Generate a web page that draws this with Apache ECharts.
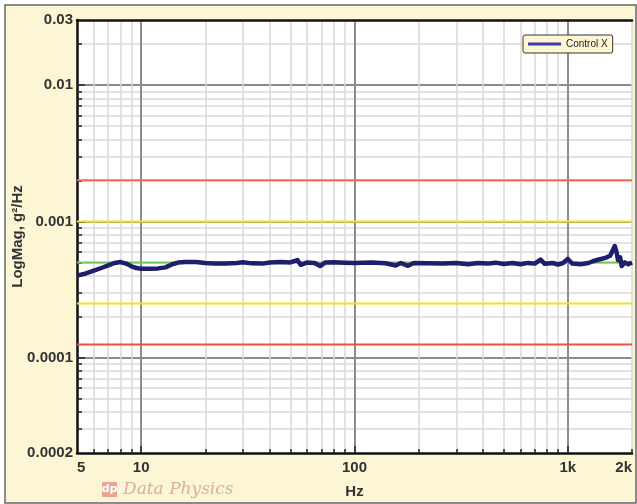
<!DOCTYPE html>
<html>
<head>
<meta charset="utf-8">
<script src="https://cdn.jsdelivr.net/npm/echarts@6/dist/echarts.min.js"></script>
<style>
  html, body { margin: 0; background: #fff; }
  #main { width: 637px; height: 504px; }
</style>
</head>
<body>
<div id="main"></div>
<script>
// Control X 谱线 (Hz, g²/Hz)
var freqs = [5, 5.5, 6, 6.5, 7, 7.5, 8, 8.5, 9, 9.5, 10, 11, 12, 13, 14, 15, 16, 18,
  20, 22, 25, 28, 30, 33, 37, 40, 45, 50, 54, 56, 60, 65, 69, 73, 80, 90,
  100, 120, 140, 156, 165, 178, 190, 220, 260, 300, 340, 380, 420, 460, 500,
  550, 600, 650, 700, 745, 780, 850, 900, 950, 1000, 1050, 1150, 1250, 1310,
  1400, 1500, 1580, 1630, 1660, 1690, 1720, 1760, 1790, 1850, 1920, 2000];
var controlX = [0.000400, 0.000415, 0.000435, 0.000455, 0.000475, 0.000495, 0.000503,
  0.000490, 0.000468, 0.000455, 0.000450, 0.000450, 0.000452, 0.000460, 0.000485,
  0.000500, 0.000504, 0.000503, 0.000495, 0.000490, 0.000490, 0.000495, 0.000502,
  0.000492, 0.000490, 0.000500, 0.000503, 0.000500, 0.000520, 0.000480, 0.000500,
  0.000495, 0.000470, 0.000500, 0.000502, 0.000498, 0.000495, 0.000500, 0.000493,
  0.000475, 0.000495, 0.000472, 0.000495, 0.000493, 0.000490, 0.000495, 0.000485,
  0.000495, 0.000490, 0.000498, 0.000487, 0.000495, 0.000485, 0.000496, 0.000490,
  0.000525, 0.000488, 0.000495, 0.000482, 0.000495, 0.000530, 0.000490, 0.000485,
  0.000495, 0.000510, 0.000525, 0.000540, 0.000560, 0.000620, 0.000660, 0.000600,
  0.000520, 0.000545, 0.000470, 0.000500, 0.000485, 0.000500];

// 参考线 / 报警线 / 中止线
var refNames = ['abort+', 'alarm+', 'reference', 'alarm-', 'abort-'];
var refValues = [0.002, 0.001, 0.0005, 0.00025, 0.000125];
var refColors = ['#f26a4f', '#f2e21c', '#6cc95a', '#f2e21c', '#f0503c'];

// 坐标轴
var xMin = 5, xMax = 2000;
var yMin = 0.00002, yMax = 0.03;
var xLabelVals = [5, 10, 100, 1000, 2000];
var xLabelText = ['5', '10', '100', '1k', '2k'];
var xMajor = [10, 100, 1000];
var xMinor = [6, 7, 8, 9, 20, 30, 40, 50, 60, 70, 80, 90,
  200, 300, 400, 500, 600, 700, 800, 900, 2000];
var yLabelVals = [0.00002, 0.0001, 0.001, 0.01, 0.03];
var yLabelText = ['0.0002', '0.0001', '0.001', '0.01', '0.03'];
var yMajor = [0.0001, 0.001, 0.01];
var yMinor = [0.00003, 0.00004, 0.00005, 0.00006, 0.00007, 0.00008, 0.00009,
  0.0002, 0.0003, 0.0004, 0.0005, 0.0006, 0.0007, 0.0008, 0.0009,
  0.002, 0.003, 0.004, 0.005, 0.006, 0.007, 0.008, 0.009, 0.02];

var lg = Math.log10;

function pickLabel(vals, texts) {
  return function (v) {
    for (var i = 0; i < vals.length; i++) {
      if (Math.abs(lg(vals[i]) - v) < 1e-6) return texts[i];
    }
    return '';
  };
}

// 网格线用的隐藏坐标轴
function gridAxis(pos, vals, color, width, tickLen) {
  var isX = pos === 'bottom' || pos === 'top';
  return {
    type: 'value',
    position: pos,
    min: lg(isX ? xMin : yMin),
    max: lg(isX ? xMax : yMax),
    axisLine: { show: false, onZero: false },
    axisTick: {
      show: true, inside: true, length: tickLen,
      customValues: vals.map(lg),
      lineStyle: { color: '#222', width: 1.5 }
    },
    axisLabel: { show: false },
    splitLine: { show: true, lineStyle: { color: color, width: width } }
  };
}

var chart = echarts.init(document.getElementById('main'));

var series = [];
for (var i = 0; i < refValues.length; i++) {
  series.push({
    name: refNames[i],
    type: 'line',
    xAxisIndex: 2,
    yAxisIndex: 2,
    showSymbol: false,
    silent: true,
    lineStyle: { color: refColors[i], width: 2 },
    data: [[lg(xMin), lg(refValues[i])], [lg(xMax), lg(refValues[i])]]
  });
}
series.push({
  name: 'Control X',
  type: 'line',
  xAxisIndex: 2,
  yAxisIndex: 2,
  showSymbol: false,
  color: '#3c3ca6',
  lineStyle: { color: '#1f1d6c', width: 4.5, join: 'round' },
  data: freqs.map(function (f, k) { return [lg(f), lg(controlX[k])]; })
});

var option = {
  backgroundColor: '#fff',
  animation: false,
  textStyle: { fontFamily: 'Liberation Sans, Arial, sans-serif' },
  grid: {
    left: 77, right: 5, top: 20, bottom: 51,
    show: true, backgroundColor: '#fff', borderWidth: 0,
    outerBoundsMode: 'none'
  },
  legend: {
    data: ['Control X'],
    left: 523, top: 35,
    icon: 'rect', itemWidth: 33, itemHeight: 3, itemGap: 4,
    padding: [4, 5],
    backgroundColor: '#fcf6d5',
    borderColor: '#333', borderWidth: 1, borderRadius: 2,
    textStyle: { fontSize: 10, color: '#222' }
  },
  graphic: [
    {
      type: 'rect', z: -10, silent: true,
      shape: { x: 5, y: 5, width: 631, height: 498 },
      style: { fill: '#fcf6d5', stroke: '#666', lineWidth: 1.5 }
    },
    {
      type: 'rect', silent: true,
      shape: { x: 102, y: 482, width: 15, height: 15, r: 1 },
      style: { fill: '#eaa491' }
    },
    {
      type: 'text', silent: true, x: 109.5, y: 489.5,
      style: { text: 'dp', fill: '#fff', font: 'bold 11px "DejaVu Sans"', align: 'center', verticalAlign: 'middle' }
    },
    {
      type: 'text', silent: true, x: 123, y: 490,
      style: { text: 'Data Physics', fill: '#dcae9f', font: 'italic 17px "DejaVu Serif"', verticalAlign: 'middle' }
    }
  ],
  xAxis: [
    gridAxis('bottom', xMinor, '#d9d9d9', 1.5, 4),
    gridAxis('bottom', xMajor, '#8c8c8c', 2, 7),
    {
      type: 'value',
      position: 'bottom',
      min: lg(xMin), max: lg(xMax),
      name: 'Hz', nameLocation: 'middle', nameGap: 31, nameMoveOverlap: false,
      nameTextStyle: { fontSize: 15, color: '#333', fontWeight: 'bold' },
      axisLine: { show: true, onZero: false, lineStyle: { color: '#111', width: 2.5 } },
      axisTick: { show: false },
      axisLabel: {
        customValues: xLabelVals.map(lg),
        formatter: pickLabel(xLabelVals, xLabelText),
        fontSize: 15, color: '#333', fontWeight: 'bold', margin: 7,
        alignMinLabel: 'left', alignMaxLabel: 'right'
      },
      splitLine: { show: false }
    },
    {
      type: 'value',
      position: 'top',
      min: lg(xMin), max: lg(xMax),
      axisLine: { show: true, onZero: false, lineStyle: { color: '#111', width: 2.5 } },
      axisTick: { show: false },
      axisLabel: { show: false },
      splitLine: { show: false }
    }
  ],
  yAxis: [
    gridAxis('left', yMinor, '#d9d9d9', 1.5, 5),
    gridAxis('left', yMajor, '#8c8c8c', 2, 8),
    {
      type: 'value',
      position: 'left',
      min: lg(yMin), max: lg(yMax),
      name: 'LogMag, g²/Hz', nameLocation: 'middle', nameGap: 52, nameMoveOverlap: false,
      nameTextStyle: { fontSize: 15, color: '#333', fontWeight: 'bold' },
      axisLine: { show: true, onZero: false, lineStyle: { color: '#111', width: 2.5 } },
      axisTick: { show: false },
      axisLabel: {
        customValues: yLabelVals.map(lg),
        formatter: pickLabel(yLabelVals, yLabelText),
        fontSize: 15, color: '#333', fontWeight: 'bold', margin: 4
      },
      splitLine: { show: false }
    }
  ],
  series: series
};

chart.setOption(option);
</script>
</body>
</html>
